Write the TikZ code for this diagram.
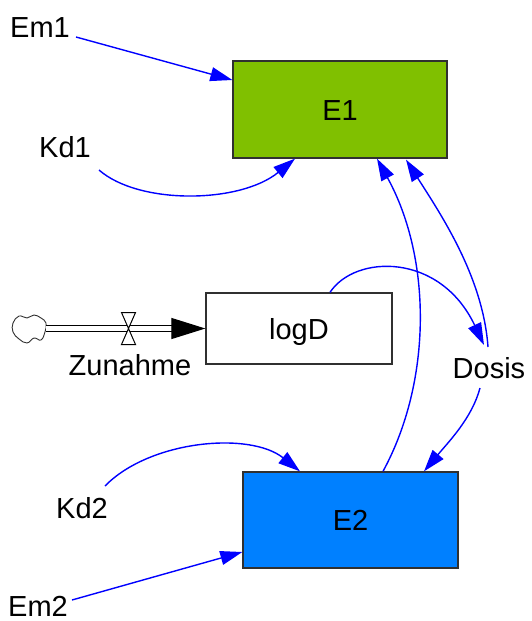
\documentclass[tikz,border=0pt]{standalone}
\usepackage{fontspec}
\setmainfont{Liberation Sans}
\usetikzlibrary{arrows.meta}

\definecolor{stockgreen}{RGB}{128,192,0}
\definecolor{stockblue}{RGB}{0,128,255}
\definecolor{linkblue}{RGB}{0,0,255}
\definecolor{edge}{RGB}{48,48,48}

\begin{document}
\begin{tikzpicture}[x=1pt,y=-1pt,
  txt/.style={font=\fontsize{29}{34}\selectfont, inner sep=0pt},
  lbl/.style={txt, anchor=base},
  stock/.style={txt, draw=edge, line width=1.3pt, text height=21pt, text depth=0pt},
  link/.style={draw=linkblue, line width=1.4pt, -{Triangle[length=22pt,width=14pt]}},
  pipe/.style={draw=black, line width=1.2pt, double=white, double distance=4.6pt,
               -{Triangle[length=34pt,width=21pt]}},
  valvepart/.style={draw=black, fill=white, line width=1pt},
  cloudline/.style={draw=edge, line width=0.9pt, fill=white}
]
\useasboundingbox (0,0) rectangle (532,621);

% stocks
\node[stock, fill=stockgreen, minimum width=214pt, minimum height=97pt] (E1) at (340,109.5) {E1};
\node[stock, fill=stockblue, minimum width=215pt, minimum height=96pt] (E2) at (350.5,520) {E2};
\node[stock, fill=white, minimum width=186pt, minimum height=71pt] (logD) at (299,328.5) {logD};

% auxiliaries and constants
\node[lbl] (Em1) at (40,37) {Em1};
\node[lbl] (Kd1) at (65,157) {Kd1};
\node[lbl] (Kd2) at (82,518) {Kd2};
\node[lbl] (Em2) at (38,616) {Em2};
\node[lbl] (Dosis) at (489,378) {Dosis};
\node[lbl] (Zunahme) at (130,375) {Zunahme};

% source cloud
\draw[cloudline] plot[smooth cycle, tension=0.7] coordinates {
  (13,323) (19,316) (27,318) (34,315) (41,318) (46,323)
  (45,332) (41,340) (34,338) (27,343) (19,339) (13,332)};
\coordinate (cloud) at (46,328.5);
\coordinate (valve) at (128.5,328.5);

% inflow pipe with valve
\draw[pipe] (cloud) -- (logD.west);
\draw[valvepart] (valve) -- ++(-7,-16) -- ++(14,0) -- cycle;
\draw[valvepart] (valve) -- ++(-7,16) -- ++(14,0) -- cycle;

% information links
\draw[link] ([shift={(36,0)}]Em1.base) -- ([shift={(0,-29.5)}]E1.west);
\draw[link] ([shift={(34,13)}]Kd1.base)
  .. controls +(40,35) and +(-55,45) .. ([shift={(-45,0)}]E1.south);
\draw[link] ([shift={(23,-32)}]Kd2.base)
  .. controls +(45,-46) and +(-50,-40) .. ([shift={(-50.5,0)}]E2.north);
\draw[link] ([shift={(34,-16)}]Em2.base) -- ([shift={(0,32)}]E2.west);
\draw[link] ([shift={(32.5,0)}]E2.north)
  .. controls +(49,-90) and +(55,100) .. ([shift={(37,0)}]E1.south);
\draw[link] ([shift={(-1,-31)}]Dosis.base)
  .. controls +(-5,-70) and +(35,55) .. ([shift={(66,1)}]E1.south);
\draw[link] ([shift={(31,0)}]logD.north)
  .. controls +(25,-38) and +(-44,-93) .. ([shift={(-5,-33)}]Dosis.base);
\draw[link] ([shift={(-9,10)}]Dosis.base)
  .. controls +(-8,30) and +(25,-30) .. ([shift={(73.5,0)}]E2.north);
\end{tikzpicture}
\end{document}
